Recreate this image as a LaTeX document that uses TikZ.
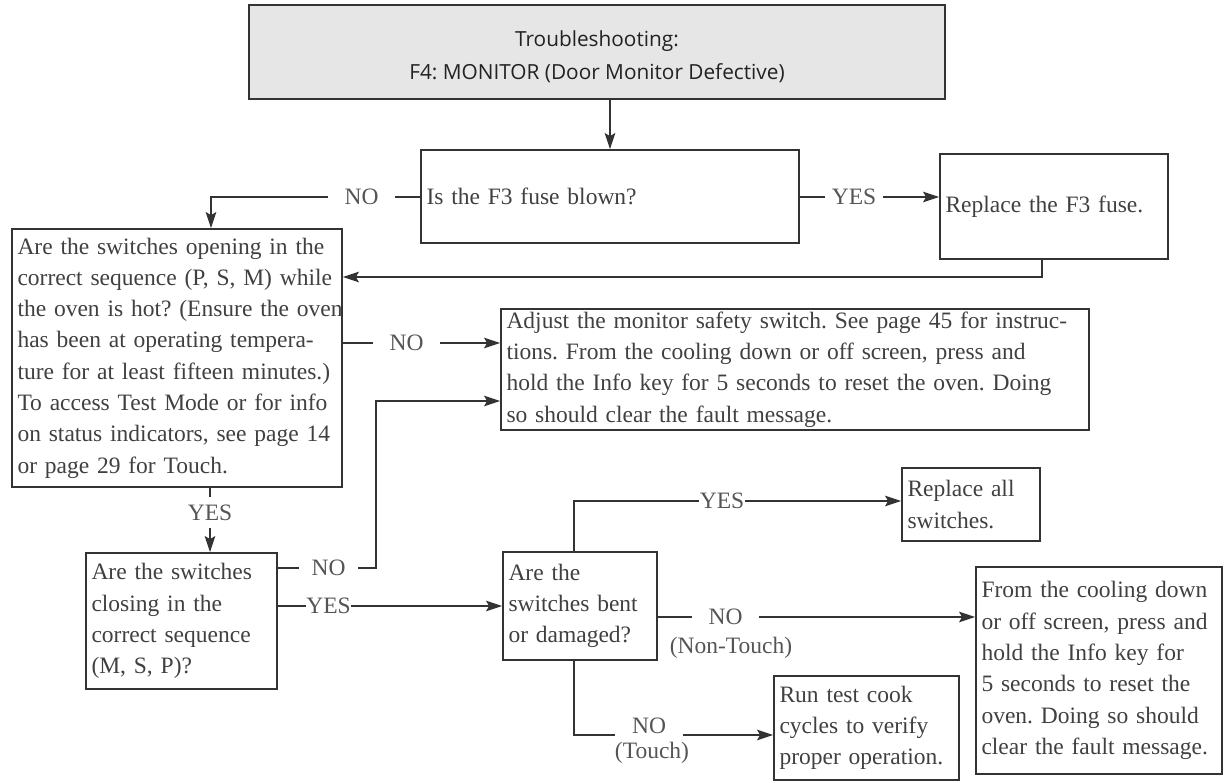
\documentclass[tikz,border=0pt]{standalone}
\usepackage{fontspec}
\setmainfont{Liberation Serif}
\newfontfamily\hdrfont{Open Sans}
\usetikzlibrary{arrows.meta,calc}
\definecolor{linec}{HTML}{333333}
\definecolor{txtc}{HTML}{404040}
\definecolor{labc}{HTML}{555555}
\definecolor{hdrfill}{HTML}{E6E6E6}
\definecolor{hdrtxt}{HTML}{222222}
\begin{document}
\frenchspacing
\begin{tikzpicture}[x=1pt,y=-1pt,
  box/.style={draw=linec, line width=1.8pt, inner xsep=5.5pt, inner ysep=0pt,
    align=left, text=txtc, font={\frenchspacing\fontsize{23.5}{31.3}\selectfont}},
  lab/.style={text=labc, font={\fontsize{23.5}{28}\selectfont}, inner ysep=1pt},
  conn/.style={draw=linec, line width=1.8pt},
  arr/.style={conn, -{Stealth[length=16pt,width=10.5pt,inset=3pt]}}]
\useasboundingbox (0,0) rectangle (1225,782);
% boxes
\node[draw=linec, fill=hdrfill, line width=1.8pt, minimum width=696pt, minimum height=94pt] (hdr) at (597,52) {};
\node[align=center, text=hdrtxt, font={\hdrfont\fontsize{20.8}{33}\selectfont}] (hdrt) at (597,57)
  {Troubleshooting:\\F4: MONITOR (Door Monitor Defective)};
\node[box, minimum width=378pt, text width=367pt, minimum height=93pt] (fuse) at (610,196.5)
  {Is the F3 fuse blown?};
\node[box, minimum width=228pt, text width=217pt, minimum height=105pt] (rf3) at (1054,206.5)
  {Replace the F3 fuse.};
\node[box, minimum width=330pt, text width=319pt, minimum height=258pt] (lbox) at (177,358)
  {\mbox{Are the switches opening in the}\\
   \mbox{correct sequence (P, S, M) while}\\
   \mbox{the oven is hot? (Ensure the oven}\\
   \mbox{has been at operating tempera-}\\
   \mbox{ture for at least fifteen minutes.)}\\
   \mbox{To access Test Mode or for info}\\
   \mbox{on status indicators, see page 14}\\
   \mbox{or page 29 for Touch.}};
\node[box, minimum width=588pt, text width=577pt, minimum height=121pt] (adj) at (795,369.5)
  {\mbox{Adjust the monitor safety switch. See page 45 for instruc-}\\
   \mbox{tions. From the cooling down or off screen, press and}\\
   \mbox{hold the Info key for 5 seconds to reset the oven. Doing}\\
   \mbox{so should clear the fault message.}};
\node[box, minimum width=191pt, text width=180pt, minimum height=136pt] (cls) at (181.5,621)
  {Are the switches\\closing in the\\correct sequence\\(M, S, P)?};
\node[box, minimum width=154pt, text width=143pt, minimum height=108pt] (bent) at (580,606)
  {Are the\\switches bent\\or damaged?};
\node[box, minimum width=138pt, text width=127pt, minimum height=73pt] (rall) at (971,504.5)
  {Replace all\\switches.};
\node[box, minimum width=246pt, text width=235pt, minimum height=207pt] (fromb) at (1099,670.5)
  {\mbox{From the cooling down}\\\mbox{or off screen, press and}\\\mbox{hold the Info key for}\\\mbox{5 seconds to reset the}\\\mbox{oven. Doing so should}\\\mbox{clear the fault message.}};
\node[box, minimum width=185pt, text width=174pt, minimum height=104pt] (run) at (866.5,728)
  {Run test cook\\cycles to verify\\\mbox{proper operation.}};
% labels
\node[lab, inner xsep=16.5pt] (noA) at (361.5,197) {NO};
\node[lab, inner xsep=7pt] (yesA) at (854,197) {YES};
\node[lab, inner xsep=16.5pt] (noB) at (406.5,343) {NO};
\node[lab, inner xsep=2pt, inner ysep=7pt] (yesB) at (210,512.5) {YES};
\node[lab, inner xsep=12.5pt] (noC) at (328.5,568) {NO};
\node[lab, inner xsep=0.5pt] (yesC) at (328.5,606) {YES};
\node[lab, inner xsep=0.5pt] (yesD) at (722,501) {YES};
\node[lab, inner xsep=16.5pt] (noE) at (725.5,617) {NO};
\node[lab] (nont) at (731,648) {(Non-Touch)};
\node[lab, inner xsep=17pt] (noF) at (649,726) {NO};
\node[lab] (tch) at (652,753) {(Touch)};
% coordinates
\coordinate (c1) at (211,197);
\coordinate (c2) at (1042,277);
\coordinate (c3) at (376,401);
\coordinate (c4) at (574,501);
\coordinate (c5) at (574,735);
% connectors
\draw[arr] (fuse.north |- hdr.south) -- (fuse.north);
\draw[conn] (noA.east -| fuse.west) -- (noA.east);
\draw[arr] (noA.west) -- (c1) -- (c1 |- lbox.north);
\draw[conn] (yesA.west -| fuse.east) -- (yesA.west);
\draw[arr] (yesA.east) -- (yesA.east -| rf3.west);
\draw[arr] (c2 |- rf3.south) -- (c2) -- (c2 -| lbox.east);
\draw[conn] (noB.west -| lbox.east) -- (noB.west);
\draw[arr] (noB.east) -- (noB.east -| adj.west);
\draw[conn] (yesB.north |- lbox.south) -- (yesB.north);
\draw[arr] (yesB.south) -- (yesB.south |- cls.north);
\draw[conn] (noC.west -| cls.east) -- (noC.west);
\draw[arr] (noC.east) -- (noC.east -| c3) -- (c3) -- (c3 -| adj.west);
\draw[conn] (yesC.west -| cls.east) -- (yesC.west);
\draw[arr] (yesC.east) -- (yesC.east -| bent.west);
\draw[conn] (c4 |- bent.north) -- (c4) -- (yesD.west);
\draw[arr] (yesD.east) -- (yesD.east -| rall.west);
\draw[conn] (noE.west -| bent.east) -- (noE.west);
\draw[arr] (noE.east) -- (noE.east -| fromb.west);
\draw[conn] (c5 |- bent.south) -- (c5) -- (c5 -| noF.west);
\draw[arr] (c5 -| noF.east) -- (c5 -| run.west);
\end{tikzpicture}
\end{document}
